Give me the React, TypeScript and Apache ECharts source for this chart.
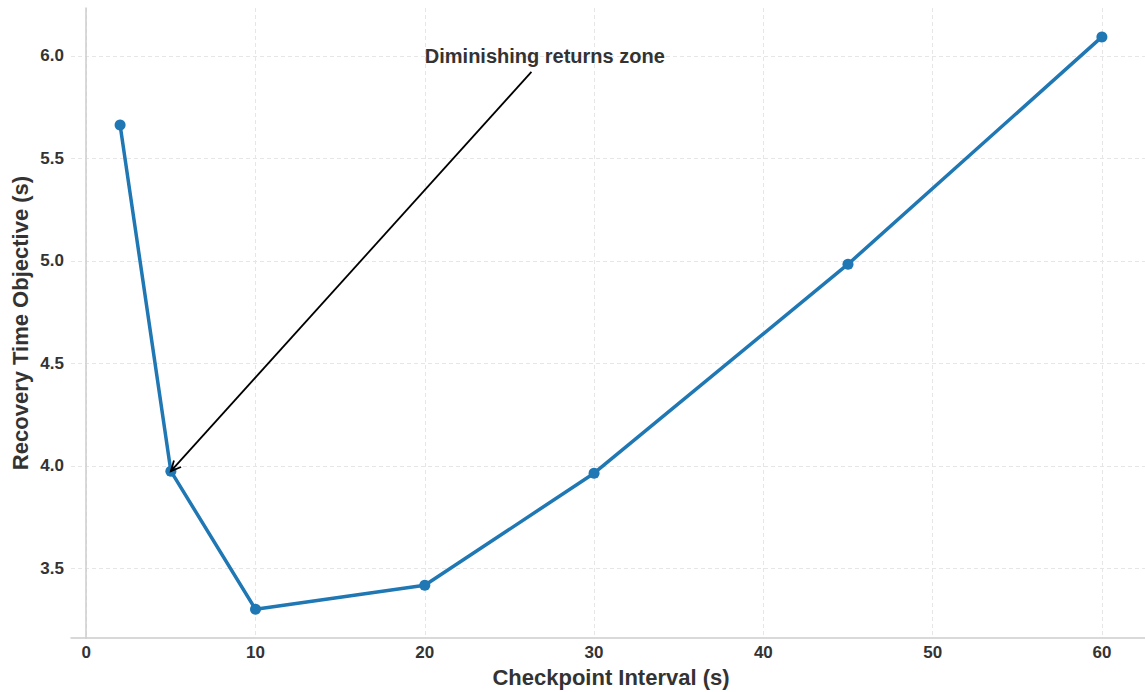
import React, { useEffect, useRef } from "react";
import * as echarts from "echarts";

const intervals = [2, 5, 10, 20, 30, 45, 60];
const rto = [5.663, 3.974, 3.3, 3.417, 3.964, 4.984, 6.093];
const xTicks = [0, 10, 20, 30, 40, 50, 60];
const yTicks = [3.5, 4.0, 4.5, 5.0, 5.5, 6.0];
const annotationText = "Diminishing returns zone";
const annotationTextPos = [20, 6.0];
const annotationTail = [26.3, 5.922];
const annotationTarget = [5, 3.974];

const FONT = "'Liberation Sans', Arial, sans-serif";

export default function App() {
  const ref = useRef<HTMLDivElement>(null);
  useEffect(() => {
    document.body.style.margin = "0";
    const chart = echarts.init(ref.current!, undefined, { renderer: "svg" });
    chart.setOption({
      animation: false,
      backgroundColor: "#fff",
      grid: { left: 71, right: -6, top: 8, bottom: 54, containLabel: false, outerBoundsMode: "none" },
      xAxis: {
        type: "value",
        min: -0.9,
        max: 62.9,
        name: "Checkpoint Interval (s)",
        nameLocation: "middle",
        nameGap: 28,
        nameMoveOverlap: false,
        nameTextStyle: { color: "#333", fontWeight: "bold", fontSize: 22, fontFamily: FONT },
        axisLine: { show: true, lineStyle: { color: "#ccc", width: 1.5 } },
        axisTick: { show: false, customValues: xTicks },
        axisLabel: {
          color: "#333",
          fontWeight: "bold",
          fontSize: 17,
          fontFamily: FONT,
          margin: 6,
          customValues: xTicks,
        },
        splitLine: { show: true, lineStyle: { color: "#e6e6e6", type: [4, 3], width: 1 } },
      },
      yAxis: {
        type: "value",
        min: 3.16,
        max: 6.234,
        name: "Recovery Time Objective (s)",
        nameLocation: "middle",
        nameGap: 40,
        nameMoveOverlap: false,
        nameTextStyle: { color: "#333", fontWeight: "bold", fontSize: 22, fontFamily: FONT },
        axisLine: { show: true, lineStyle: { color: "#ccc", width: 1.5 } },
        axisTick: { show: false, customValues: yTicks },
        axisLabel: {
          color: "#333",
          fontWeight: "bold",
          fontSize: 17,
          fontFamily: FONT,
          margin: 7,
          customValues: yTicks,
          formatter: (v: number) => v.toFixed(1),
        },
        splitLine: { show: true, lineStyle: { color: "#e6e6e6", type: [4, 3], width: 1 } },
      },
      series: [
        {
          type: "line",
          data: intervals.map((x, i) => [x, rto[i]]),
          lineStyle: { color: "#1f77b4", width: 3.5 },
          itemStyle: { color: "#1f77b4" },
          symbol: "circle",
          symbolSize: 11,
          z: 3,
        },
      ],
    });
    const tp = chart.convertToPixel({ gridIndex: 0 }, annotationTextPos) as number[];
    const tail = chart.convertToPixel({ gridIndex: 0 }, annotationTail) as number[];
    const tgt = chart.convertToPixel({ gridIndex: 0 }, annotationTarget) as number[];
    const ang = Math.atan2(tail[1] - tgt[1], tail[0] - tgt[0]);
    const hl = 11;
    const spread = 0.45;
    const h1 = [tgt[0] + hl * Math.cos(ang + spread), tgt[1] + hl * Math.sin(ang + spread)];
    const h2 = [tgt[0] + hl * Math.cos(ang - spread), tgt[1] + hl * Math.sin(ang - spread)];
    chart.setOption({
      graphic: [
        {
          type: "text",
          x: tp[0],
          y: tp[1],
          z: 10,
          style: {
            text: annotationText,
            fill: "#333",
            font: `bold 20px ${FONT}`,
            textAlign: "left",
            textVerticalAlign: "middle",
          },
        },
        {
          type: "line",
          z: 10,
          shape: { x1: tail[0], y1: tail[1], x2: tgt[0], y2: tgt[1] },
          style: { stroke: "#000", lineWidth: 1.8 },
        },
        {
          type: "polyline",
          z: 10,
          shape: { points: [h1, tgt, h2] },
          style: { stroke: "#000", lineWidth: 1.8, fill: null },
        },
      ],
    });
    return () => chart.dispose();
  }, []);
  return <div ref={ref} style={{ width: 1145, height: 692 }} />;
}
